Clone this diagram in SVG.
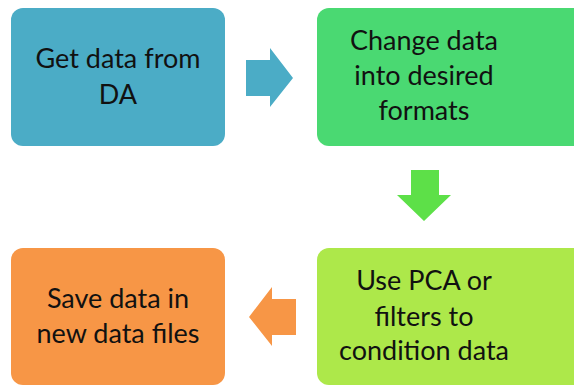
<svg xmlns="http://www.w3.org/2000/svg" width="574" height="386" viewBox="0 0 574 386">
<style>
text{font-family:Lato,"Open Sans","Liberation Sans",sans-serif;font-size:27px;fill:#111;text-anchor:middle}
.box{rx:12;ry:12}
</style>
<rect width="574" height="386" fill="#fff"/>
<g id="n1"><rect class="box" x="11" y="8" width="214" height="138" fill="#4BACC6"/><text x="118" y="68">Get data from</text><text x="118" y="104">DA</text></g>
<g id="n2"><rect class="box" x="317" y="8" width="280" height="138" fill="#4AD972"/><text x="424" y="50">Change data</text><text x="424" y="85">into desired</text><text x="424" y="120">formats</text></g>
<g id="n3"><rect class="box" x="317" y="248" width="280" height="137" fill="#ADE84A"/><text x="424" y="290">Use PCA or</text><text x="424" y="326">filters to</text><text x="424" y="360">condition data</text></g>
<g id="n4"><rect class="box" x="11" y="248" width="214" height="137" fill="#F79646"/><text x="118" y="308">Save data in</text><text x="118" y="343">new data files</text></g>
<g id="connectors">
<polygon points="246,60 270,60 270,48 293,78 270,107 270,96 246,96" fill="#4BACC6"/>
<polygon points="411,170 439,170 439,195 451,195 424,221 397,195 411,195" fill="#5DE048"/>
<polygon points="296,299 272,299 272,287 249,317 272,346 272,335 296,335" fill="#F79646"/>
</g>
</svg>
